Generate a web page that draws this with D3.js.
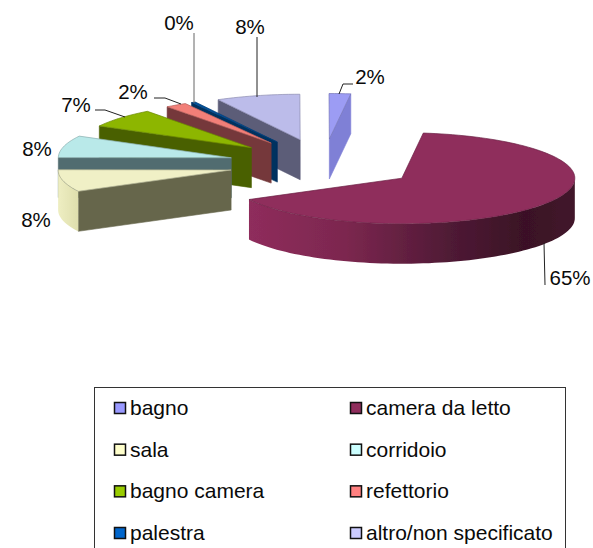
<!DOCTYPE html>
<html><head><meta charset="utf-8">
<script src="https://cdn.jsdelivr.net/npm/d3@7"></script>
<style>html,body{margin:0;padding:0;background:#fff;overflow:hidden}svg{display:block}text{font-family:"Liberation Sans",Arial,sans-serif;fill:#0a0a0a}</style>
</head><body><svg id="c" width="593" height="548"></svg>
<script>
const categories = ["bagno","camera da letto","sala","corridoio","bagno camera","refettorio","palestra","altro/non specificato"];
const values = [2,65,7.8,7.8,6.8,2,0.4,7.8];
const topColors = ["#9c9cf4","#8f2d5c","#f0f0c6","#b9e9e9","#8db600","#f27f78","#06519c","#bcbcea"];
const sideColors = ["#7f80d6","#8f2d5c","#66664c","#516c6f","#4a6100","#74393a","#00305f","#5c5d78"];
const swatchColors = ["#9999ff","#8f2d5c","#ffffcc","#ccffff","#99cc00","#ff8080","#0066cc","#ccccff"];
// painter's order: back to front
const drawOrder = [7,6,5,4,3,2,0,1];
// label layout
const labelPos = [[370,84],[570,285],[36,227],[37,156],[76,112],[133,99],[179,30],[250,34]];
const leaders = [[[339,94],[343,84],[353,84]],[[544,243],[545,285]],null,null,[[125,117],[105,110],[95,110]],[[181,104],[165,98],[154,98]],[[194,103],[194,33]],[[257,97],[257,37]]];

const svg = d3.select("#c");
const cx=323.5, cy=164, rx=173, ry=45.5, depth=40, explode=0.55;
const rad = d => d*Math.PI/180;
const pie = d3.pie().sort(null).startAngle(rad(-0.1)).endAngle(rad(359.9));
const arcs = pie(values);
const line = d3.line();
const defs = svg.append("defs");
defs.append("filter").attr("id","soft").attr("x","-5%").attr("y","-5%").attr("width","110%").attr("height","110%")
  .append("feGaussianBlur").attr("stdDeviation",0.45);

function apex(a){const m=(a.startAngle+a.endAngle)/2;return [cx+explode*rx*Math.sin(m),cy-explode*ry*Math.cos(m)];}
function rim(a,t){const c=apex(a);return [c[0]+rx*Math.sin(t),c[1]-ry*Math.cos(t)];}
const down = (p)=>[p[0],p[1]+depth];
function sample(t0,t1){const n=Math.max(2,Math.ceil(Math.abs(t1-t0)/rad(2)));return d3.range(n+1).map(i=>t0+(t1-t0)*i/n);}

function grad(id,stops,x0,x1){
  const g=defs.append("linearGradient").attr("id",id).attr("gradientUnits","userSpaceOnUse").attr("x1",x0).attr("x2",x1).attr("y1",0).attr("y2",0);
  stops.forEach(s=>g.append("stop").attr("offset",s[0]).attr("stop-color",s[1]));
}
const a1=apex(arcs[1]);
grad("wall1",[[0,"#8f2d5c"],[0.3,"#7c274f"],[0.62,"#4f1a35"],[0.85,"#3a1125"],[1,"#42152b"]],a1[0]-155,a1[0]+rx);
const a2=apex(arcs[2]);
grad("wall2",[[0,"#eeeec2"],[1,"#dcdcaa"]],a2[0]-rx,a2[0]-150);

const g = svg.append("g").attr("filter","url(#soft)");
drawOrder.forEach(i=>{
  const a=arcs[i], c=apex(a), s=a.startAngle, e=a.endAngle, sl=g.append("g");
  const face=(pts,fill)=>sl.append("path").attr("d",line(pts)+"Z").attr("fill",fill).attr("stroke",fill).attr("stroke-width",0.6);
  // cut faces that look toward the viewer
  if(s>Math.PI) face([c,rim(a,s),down(rim(a,s)),down(c)],sideColors[i]);
  if(e<Math.PI) face([c,rim(a,e),down(rim(a,e)),down(c)],sideColors[i]);
  // curved outer wall: only the part facing the viewer
  const w0=Math.max(s,Math.PI/2), w1=Math.min(e,3*Math.PI/2);
  if(w1>w0){
    const top=sample(w0,w1).map(t=>rim(a,t));
    const fill=i===1?"url(#wall1)":i===2?"url(#wall2)":sideColors[i];
    sl.append("path").attr("d",line(top.concat(top.map(down).reverse()))+"Z").attr("fill",fill);
  }
  const topPts=[c].concat(sample(s,e).map(t=>rim(a,t)));
  sl.append("path").attr("d",line(topPts)+"Z").attr("fill",topColors[i]).attr("stroke",d3.color(topColors[i]).darker(0.8)).attr("stroke-width",0.7);
});

// leader lines
leaders.forEach((pts,i)=>{ if(!pts) return;
  svg.append("path").attr("d",line(pts)).attr("fill","none").attr("stroke",i===6?"#666":"#222").attr("stroke-width",1);
});
// percent labels
values.forEach((v,i)=>{
  svg.append("text").attr("x",labelPos[i][0]).attr("y",labelPos[i][1]).attr("text-anchor","middle").attr("font-size",20.5).text(Math.round(v)+"%");
});

// legend
svg.append("rect").attr("x",94.5).attr("y",387.5).attr("width",471).attr("height",200).attr("fill","none").attr("stroke","#333").attr("stroke-width",1);
const rows=d3.scalePoint().domain(d3.range(4)).range([408,533]);
const cols=d3.scalePoint().domain([0,1]).range([114.5,350.5]);
categories.forEach((name,i)=>{
  const x=cols(i%2), y=rows(Math.floor(i/2));
  svg.append("rect").attr("x",x).attr("y",y-5.5).attr("width",11).attr("height",11).attr("fill",swatchColors[i]).attr("stroke","#111").attr("stroke-width",1.5);
  svg.append("text").attr("x",x+15.5).attr("y",y+7).attr("font-size",21).text(name);
});
</script></body></html>
